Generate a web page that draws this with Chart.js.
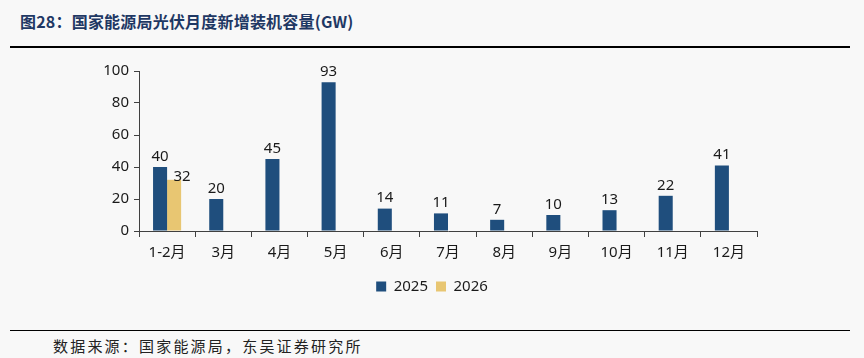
<!DOCTYPE html>
<html>
<head>
<meta charset="utf-8">
<script src="https://cdn.jsdelivr.net/npm/chart.js@4"></script>
<style>
    body { margin: 0; background: #f8f8f8; width: 864px; height: 358px; overflow: hidden; position: relative; }
    .title { position: absolute; left: 20px; top: 9px; font: bold 16px "Noto Sans CJK SC", sans-serif; letter-spacing: 0.2px; color: #1f3864; white-space: nowrap; }
    .line-top { position: absolute; left: 10px; top: 46px; width: 840px; height: 2px; background: #000; }
    .line-bottom { position: absolute; left: 10px; top: 330px; width: 840px; height: 1px; background: #000; }
    .source { position: absolute; left: 53px; top: 335px; font: 15px "Noto Sans CJK SC", sans-serif; letter-spacing: 2.2px; color: #222; white-space: nowrap; }
    #chartBox { position: absolute; left: 0; top: 50px; width: 864px; height: 260px; }
</style>
</head>
<body>
<div class="title">图28：国家能源局光伏月度新增装机容量(GW)</div>
<div class="line-top"></div>
<div id="chartBox"><canvas id="pvChart"></canvas></div>
<div class="line-bottom"></div>
<div class="source">数据来源：国家能源局，东吴证券研究所</div>

<script>
const months = ['1-2月', '3月', '4月', '5月', '6月', '7月', '8月', '9月', '10月', '11月', '12月'];
const installs2025 = [40, 20, 45, 93, 14, 11, 7, 10, 13, 22, 41];
const installs2026 = [32, null, null, null, null, null, null, null, null, null, null];
const yTicks = [0, 20, 40, 60, 80, 100];

const tickFont = { family: "'Noto Sans', 'Noto Sans CJK SC', sans-serif", size: 15 };

// value labels above each bar
const barLabels = {
    id: 'barLabels',
    afterDatasetsDraw(chart) {
        const ctx = chart.ctx;
        ctx.save();
        ctx.font = "15px 'Noto Sans', sans-serif";
        ctx.fillStyle = '#1a1a1a';
        ctx.textAlign = 'center';
        ctx.textBaseline = 'bottom';
        chart.data.datasets.forEach(function (ds, di) {
            chart.getDatasetMeta(di).data.forEach(function (bar, i) {
                const v = ds.data[i];
                if (v === null) return;
                let dx = 0, dy = -3;
                if (di === 1) { dx = 8; dy = 4; }
                ctx.fillText(v, bar.x + dx, bar.y + dy);
            });
        });
        ctx.restore();
    }
};

new Chart(document.getElementById('pvChart').getContext('2d'), {
    type: 'bar',
    data: {
        labels: months,
        datasets: [{
            label: '2025',
            data: installs2025,
            backgroundColor: '#1f4e7d',
            borderWidth: 0
        }, {
            label: '2026',
            data: installs2026,
            backgroundColor: '#e8c672',
            borderWidth: 0
        }]
    },
    options: {
        responsive: true,
        maintainAspectRatio: false,
        animation: false,
        categoryPercentage: 0.5,
        barPercentage: 1.0,
        layout: { padding: { top: 21, right: 0, left: 0, bottom: 6 } },
        scales: {
            x: {
                grid: { display: true, drawOnChartArea: false, drawTicks: true, tickLength: 6, color: '#404040', offset: true },
                border: { display: true, color: '#404040', width: 1 },
                ticks: { color: '#1a1a1a', font: tickFont, padding: 7 },
                afterFit: function (axis) { axis.height = 40; }
            },
            y: {
                min: 0,
                max: 100,
                afterBuildTicks: function (axis) { axis.ticks = yTicks.map(function (v) { return { value: v }; }); },
                grid: { display: true, drawOnChartArea: false, drawTicks: true, tickLength: 5, color: '#404040' },
                border: { display: true, color: '#404040', width: 1 },
                ticks: { color: '#1a1a1a', font: tickFont, padding: 5 },
                afterFit: function (axis) { axis.width = 139; }
            },
            // empty right-hand axis, only reserves space so the legend stays centred on the page
            spacer: {
                position: 'right',
                display: true,
                grid: { display: false },
                border: { display: false },
                ticks: { display: false },
                afterFit: function (axis) { axis.width = 107; }
            }
        },
        plugins: {
            legend: {
                position: 'bottom',
                labels: { boxWidth: 10, boxHeight: 10, padding: 8, color: '#1a1a1a', font: tickFont }
            },
            tooltip: { enabled: false }
        }
    },
    plugins: [barLabels]
});
</script>
</body>
</html>
